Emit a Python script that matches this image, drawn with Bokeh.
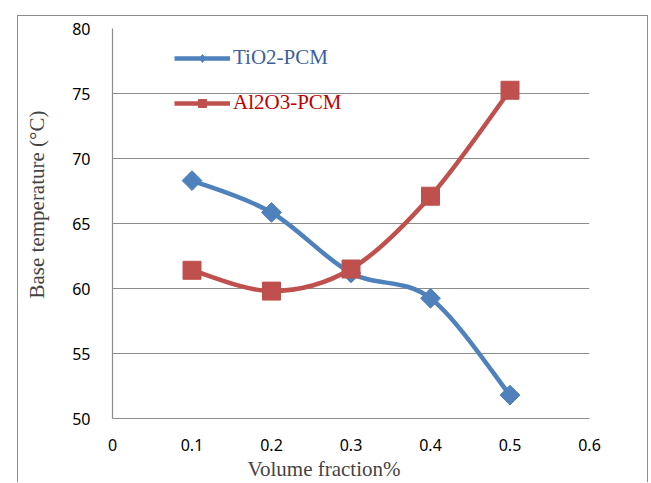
import numpy as np
from bokeh.plotting import figure
from bokeh.models import (FixedTicker, Legend, LegendItem, Title, ColumnDataSource,
                          NumeralTickFormatter)
from bokeh.embed import file_html
from bokeh.resources import INLINE

# ---- data ----
volume_fraction = [0.1, 0.2, 0.3, 0.4, 0.5]
tio2_pcm = [68.3, 65.85, 61.2, 59.25, 51.8]
al2o3_pcm = [61.4, 59.8, 61.5, 67.1, 75.25]
series_names = ["TiO2-PCM", "Al2O3-PCM"]
x_ticks = [0, 0.1, 0.2, 0.3, 0.4, 0.5, 0.6]
y_ticks = [50, 55, 60, 65, 70, 75, 80]
x_title = "Volume fraction%"
y_title = "Base temperature (°C)"

BLUE = "#4F81BD"
RED = "#C0504D"
GRID = "#8C8C8C"
SERIF = "Liberation Serif"
SANS = "Noto Sans"


def smooth_segments(xs, ys):
    """Bezier segments (Excel-like smoothed line) through the data points."""
    xs = np.asarray(xs, float)
    ys = np.asarray(ys, float)
    n = len(xs)
    d = dict(x0=[], y0=[], x1=[], y1=[], cx0=[], cy0=[], cx1=[], cy1=[])
    for i in range(n - 1):
        im1 = max(i - 1, 0)
        ip2 = min(i + 2, n - 1)
        d["x0"].append(xs[i]); d["y0"].append(ys[i])
        d["x1"].append(xs[i + 1]); d["y1"].append(ys[i + 1])
        d["cx0"].append(xs[i] + (xs[i + 1] - xs[im1]) / 6)
        d["cy0"].append(ys[i] + (ys[i + 1] - ys[im1]) / 6)
        d["cx1"].append(xs[i + 1] - (xs[ip2] - xs[i]) / 6)
        d["cy1"].append(ys[i + 1] - (ys[ip2] - ys[i]) / 6)
    return ColumnDataSource(d)


p = figure(width=650, height=482, x_range=(0, 0.6), y_range=(50, 80),
           output_backend="svg", toolbar_location=None,
           min_border_left=112, min_border_top=28, min_border_right=61,
           min_border_bottom=62)
# outer chart-area frame (top, left, right edges) drawn as CSS background lines
p.styles = {
    "background-image": "linear-gradient(#8C8C8C,#8C8C8C), linear-gradient(#8C8C8C,#8C8C8C), "
                        "linear-gradient(#8C8C8C,#8C8C8C)",
    "background-size": "1px 100%, 631px 1px, 1px 100%",
    "background-position": "17px 15px, 17px 15px, 647px 15px",
    "background-repeat": "no-repeat",
}
p.border_fill_color = None
p.outline_line_color = None
p.background_fill_color = "white"

# axes
p.xaxis.ticker = FixedTicker(ticks=x_ticks)
p.xaxis.formatter = NumeralTickFormatter(format="0.[0]")
p.yaxis.ticker = FixedTicker(ticks=y_ticks)
for ax in (p.xaxis[0], p.yaxis[0]):
    ax.axis_line_color = GRID
    ax.axis_line_width = 1.2
    ax.major_tick_out = 0
    ax.major_tick_in = 0
    ax.minor_tick_out = 0
    ax.minor_tick_in = 0
    ax.major_label_text_font = SANS
    ax.major_label_text_font_size = "16px"
    ax.major_label_text_color = "black"
p.xaxis.major_label_standoff = 20
p.yaxis.major_label_standoff = 22

p.xgrid.visible = False
p.ygrid.ticker = FixedTicker(ticks=y_ticks)
p.ygrid.grid_line_color = GRID
p.ygrid.grid_line_width = 1.2

# series
p.bezier(x0="x0", y0="y0", x1="x1", y1="y1", cx0="cx0", cy0="cy0", cx1="cx1", cy1="cy1",
         source=smooth_segments(volume_fraction, tio2_pcm), line_color=BLUE, line_width=4.5)
p.bezier(x0="x0", y0="y0", x1="x1", y1="y1", cx0="cx0", cy0="cy0", cx1="cx1", cy1="cy1",
         source=smooth_segments(volume_fraction, al2o3_pcm), line_color=RED, line_width=4.5)
p.scatter(volume_fraction, tio2_pcm, marker="square", angle=np.pi / 4, size=14,
          fill_color=BLUE, line_color=BLUE)
p.scatter(volume_fraction, al2o3_pcm, marker="square", size=18,
          fill_color=RED, line_color=RED)

# legend glyph renderers (a point far outside the view: legend only)
hidden = ColumnDataSource(dict(x=[-10], y=[-10]))
lb_line = p.line("x", "y", source=hidden, line_color=BLUE, line_width=4.5)
lb_mark = p.scatter("x", "y", source=hidden, marker="diamond", size=11,
                    fill_color=BLUE, line_color=BLUE)
lr_line = p.line("x", "y", source=hidden, line_color=RED, line_width=4.5)
lr_mark = p.scatter("x", "y", source=hidden, marker="square", size=10,
                    fill_color=RED, line_color=RED)


def make_legend(label, rends, color, loc):
    lg = Legend(items=[LegendItem(label=label, renderers=rends)], location=loc)
    lg.border_line_color = None
    lg.background_fill_alpha = 0
    lg.padding = 0
    lg.margin = 0
    lg.glyph_width = 56
    lg.glyph_height = 20
    lg.label_standoff = 3
    lg.label_text_font = SERIF
    lg.label_text_font_size = "21px"
    lg.label_text_color = color
    return lg


p.add_layout(make_legend(series_names[0], [lb_line, lb_mark], "#3E5F9C", (62, 348)))
p.add_layout(make_legend(series_names[1], [lr_line, lr_mark], "#C00000", (62, 303)))

# axis titles
xt = Title(text=x_title, align="left", offset=135, text_font=SERIF,
           text_font_size="21px", text_font_style="normal", standoff=3)
p.add_layout(xt, "below")
yt = Title(text=y_title, align="left", offset=120, text_font=SERIF,
           text_font_size="21px", text_font_style="normal", standoff=41)
p.add_layout(yt, "left")

open("out.html", "w").write(file_html(p, INLINE))
